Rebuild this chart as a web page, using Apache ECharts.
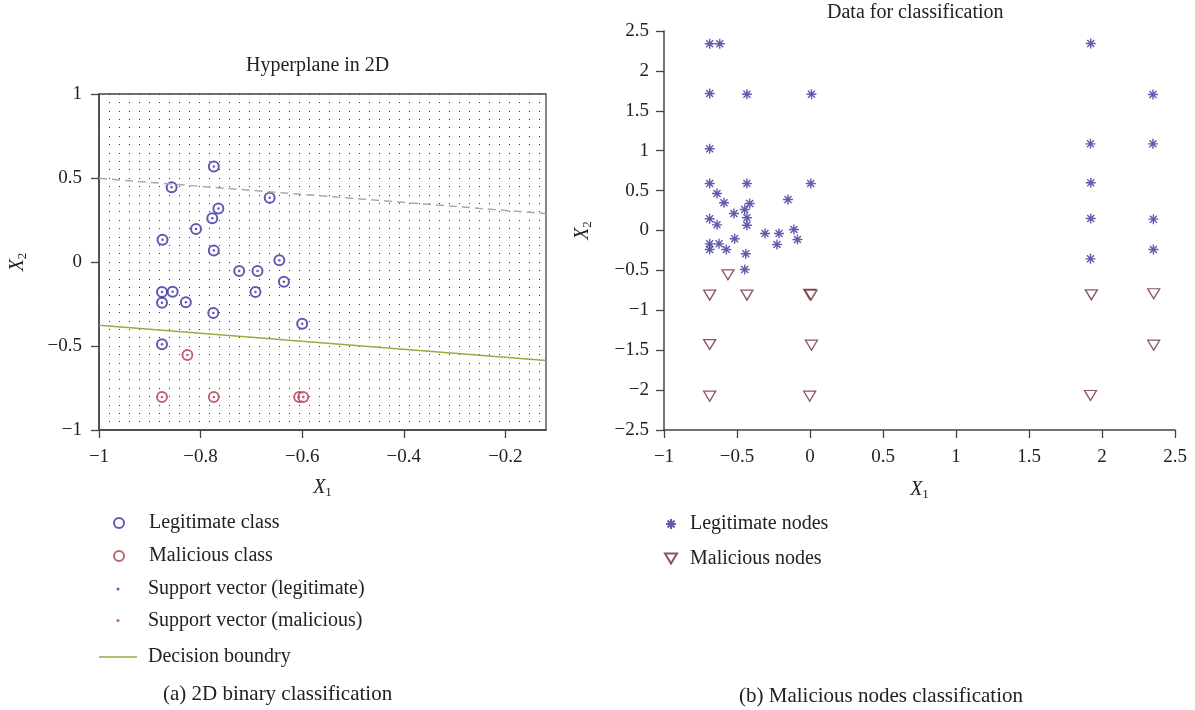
<!DOCTYPE html>
<html>
<head>
<meta charset="utf-8">
<script src="https://cdn.jsdelivr.net/npm/echarts@6/dist/echarts.min.js"></script>
<style>
  html, body { margin: 0; padding: 0; background: #fff; }
  #main { width: 1195px; height: 710px; }
</style>
</head>
<body>
<div id="main"></div>
<script>
// 左图：二维超平面
var legitX2D = [-0.774, -0.857, -0.664, -0.765, -0.777, -0.809, -0.875, -0.774, -0.645, -0.724,
                -0.688, -0.636, -0.876, -0.855, -0.692, -0.876, -0.829, -0.775, -0.600, -0.876];
var legitY2D = [0.569, 0.445, 0.383, 0.319, 0.260, 0.196, 0.133, 0.069, 0.010, -0.054,
                -0.054, -0.117, -0.179, -0.177, -0.179, -0.242, -0.240, -0.304, -0.367, -0.490];
var malX2D = [-0.826, -0.876, -0.774, -0.606, -0.598];
var malY2D = [-0.554, -0.804, -0.804, -0.804, -0.804];
var boundaryX = [-1, -0.12];
var boundaryY = [-0.377, -0.587];
var marginX = [-1, -0.12];
var marginY = [0.498, 0.288];
var leftXTicks = [-1, -0.8, -0.6, -0.4, -0.2];

// 右图：分类数据
var legitX = [-0.687, -0.618, -0.687, -0.432, 0.010, -0.687, -0.687, -0.432, 0.005, -0.637,
              -0.589, -0.413, -0.151, -0.521, -0.447, -0.432, -0.432, -0.687, -0.637, -0.308,
              -0.212, -0.110, -0.086, -0.226, -0.516, -0.687, -0.623, -0.687, -0.573, -0.440,
              -0.447, 1.923, 2.349, 1.921, 2.349, 1.923, 1.923, 2.352, 2.352, 1.921];
var legitY = [2.340, 2.340, 1.717, 1.708, 1.708, 1.024, 0.589, 0.589, 0.589, 0.464,
              0.347, 0.338, 0.388, 0.213, 0.263, 0.159, 0.066, 0.147, 0.071, -0.038,
              -0.038, 0.013, -0.113, -0.175, -0.104, -0.167, -0.167, -0.238, -0.238, -0.292,
              -0.489, 2.343, 1.704, 1.086, 1.086, 0.598, 0.150, 0.142, -0.238, -0.355];
var malX = [-0.562, -0.687, -0.432, -0.002, 0.007, -0.687, 0.010, -0.687, -0.002,
            1.927, 2.354, 2.354, 1.921];
var malY = [-0.555, -0.810, -0.810, -0.800, -0.810, -1.429, -1.437, -2.076, -2.076,
            -0.806, -0.793, -1.437, -2.068];

function zip(xs, ys) {
    var out = [];
    for (var i = 0; i < xs.length; i++) out.push([xs[i], ys[i]]);
    return out;
}
function minus(v) { return String(v).replace('-', '\u2212'); }

var FONT = '"Liberation Serif", "DejaVu Serif", serif';
var TXT = '#222';
var BLUE = '#3a31a0';
var RED = '#b03c50';
var STAR = '#3a3299';
var TRI = '#6e2a32';
var GREEN = '#8fae45';
var AXIS = '#444';

var starPath = 'path://M0,-5L0,5M-5,0L5,0M-3.5,-3.5L3.5,3.5M-3.5,3.5L3.5,-3.5';
var triPath = 'path://M0,0L12,0L6,10Z';
var linePath = 'path://M0,0L38,0L38,1.6L0,1.6Z';

var nameRich = {
    it: { fontFamily: FONT, fontStyle: 'italic', fontSize: 20, color: TXT },
    sub: { fontFamily: FONT, fontSize: 13, color: TXT, padding: [10, 0, 0, 0] }
};

var myChart = echarts.init(document.getElementById('main'));

// 每个图例单独放，便于控制位置
function legendBox(item, left, top, w, h, pad) {
    return {
        data: [item], left: left, top: top, orient: 'vertical', padding: 0,
        itemWidth: w, itemHeight: h, selectedMode: false,
        textStyle: { fontFamily: FONT, fontSize: 20, color: TXT, padding: [0, 0, 0, pad] }
    };
}

function titleBox(text, left, top) {
    return { text: text, left: left, top: top, padding: 0,
             textStyle: { fontFamily: FONT, fontSize: 20, fontWeight: 'normal', color: TXT } };
}

var option = {
    animation: false,
    title: [
        titleBox('Hyperplane in 2D', 246, 56),
        titleBox('Data for classification', 827, 3),
        { text: '(a) 2D binary classification', left: 163, top: 684, padding: 0,
          textStyle: { fontFamily: FONT, fontSize: 21, fontWeight: 'normal', color: TXT } },
        { text: '(b) Malicious nodes classification', left: 739, top: 686, padding: 0,
          textStyle: { fontFamily: FONT, fontSize: 21, fontWeight: 'normal', color: TXT } }
    ],
    legend: [
        legendBox('Legitimate class', 113, 513, 10, 10, 20),
        legendBox('Malicious class', 113, 546, 10, 10, 20),
        legendBox('Support vector (legitimate)', 116.5, 579, 3, 3, 23.5),
        legendBox('Support vector (malicious)', 116.5, 610.5, 3, 3, 23.5),
        legendBox({ name: 'Decision boundry', icon: linePath }, 99, 647, 38, 1.6, 6),
        legendBox('Legitimate nodes', 665, 514, 10, 10, 9),
        legendBox('Malicious nodes', 664, 548.5, 12, 10, 8)
    ],
    grid: [
        { left: 99, top: 94, width: 447, height: 336, show: true,
          borderColor: AXIS, borderWidth: 1.3, backgroundColor: 'transparent' },
        { left: 664, top: 31, width: 511, height: 399 }
    ],
    xAxis: [
        {
            gridIndex: 0, type: 'value', min: -1, max: -0.12, interval: 0.2,
            name: '{it|X}{sub|1}', nameLocation: 'middle', nameGap: 46,
            nameTextStyle: { rich: nameRich },
            axisLine: { onZero: false, lineStyle: { color: AXIS, width: 1.5 } },
            axisTick: { length: 8, customValues: leftXTicks, lineStyle: { color: AXIS, width: 1.3 } },
            axisLabel: { customValues: leftXTicks, margin: 18, formatter: minus,
                         fontFamily: FONT, fontSize: 19, color: TXT },
            splitLine: { show: false }
        },
        {
            gridIndex: 1, type: 'value', min: -1, max: 2.5, interval: 0.5,
            name: '{it|X}{sub|1}', nameLocation: 'middle', nameGap: 48,
            nameTextStyle: { rich: nameRich },
            axisLine: { onZero: false, lineStyle: { color: AXIS, width: 1.5 } },
            axisTick: { length: 8, lineStyle: { color: AXIS, width: 1.3 } },
            axisLabel: { margin: 18, formatter: minus, fontFamily: FONT, fontSize: 19, color: TXT },
            splitLine: { show: false }
        }
    ],
    yAxis: [
        {
            gridIndex: 0, type: 'value', min: -1, max: 1, interval: 0.5,
            name: '{it|X}{sub|2}', nameLocation: 'middle', nameGap: 70, nameRotate: 90,
            nameTextStyle: { rich: nameRich },
            axisLine: { onZero: false, lineStyle: { color: AXIS, width: 1.5 } },
            axisTick: { length: 8, lineStyle: { color: AXIS, width: 1.3 } },
            axisLabel: { margin: 17, formatter: minus, fontFamily: FONT, fontSize: 19, color: TXT },
            splitLine: { show: true, lineStyle: { color: '#333', width: 1, type: [1, 9] } },
            minorTick: { show: false, splitNumber: 10 },
            minorSplitLine: { show: true, lineStyle: { color: '#333', width: 1, type: [1, 9] } }
        },
        {
            gridIndex: 1, type: 'value', min: -2.5, max: 2.5, interval: 0.5,
            name: '{it|X}{sub|2}', nameLocation: 'middle', nameGap: 70, nameRotate: 90,
            nameTextStyle: { rich: nameRich },
            axisLine: { onZero: false, lineStyle: { color: AXIS, width: 1.5 } },
            axisTick: { length: 8, lineStyle: { color: AXIS, width: 1.3 } },
            axisLabel: { margin: 15, formatter: minus, fontFamily: FONT, fontSize: 19, color: TXT },
            splitLine: { show: false }
        }
    ],
    series: [
        {
            name: 'Margin', type: 'line', xAxisIndex: 0, yAxisIndex: 0,
            data: zip(marginX, marginY), symbol: 'none',
            lineStyle: { color: '#aaaaaa', width: 1.5, type: [8, 5] }
        },
        {
            name: 'Decision boundry', type: 'line', xAxisIndex: 0, yAxisIndex: 0,
            data: zip(boundaryX, boundaryY), symbol: 'none',
            lineStyle: { color: GREEN, width: 1.5 },
            itemStyle: { color: GREEN }
        },
        {
            name: 'Legitimate class', type: 'scatter', xAxisIndex: 0, yAxisIndex: 0,
            data: zip(legitX2D, legitY2D), symbol: 'emptyCircle', symbolSize: 10,
            itemStyle: { color: BLUE, borderColor: BLUE, borderWidth: 1.4 }
        },
        {
            name: 'Malicious class', type: 'scatter', xAxisIndex: 0, yAxisIndex: 0,
            data: zip(malX2D, malY2D), symbol: 'emptyCircle', symbolSize: 10,
            itemStyle: { color: RED, borderColor: RED, borderWidth: 1.4 }
        },
        {
            name: 'Support vector (legitimate)', type: 'scatter', xAxisIndex: 0, yAxisIndex: 0,
            data: zip(legitX2D, legitY2D), symbol: 'circle', symbolSize: 2.5,
            itemStyle: { color: BLUE }
        },
        {
            name: 'Support vector (malicious)', type: 'scatter', xAxisIndex: 0, yAxisIndex: 0,
            data: zip(malX2D, malY2D), symbol: 'circle', symbolSize: 2.5,
            itemStyle: { color: RED }
        },
        {
            name: 'Legitimate nodes', type: 'scatter', xAxisIndex: 1, yAxisIndex: 1,
            data: zip(legitX, legitY), symbol: starPath, symbolSize: 10,
            itemStyle: { color: STAR, borderColor: STAR, borderWidth: 1.4 }
        },
        {
            name: 'Malicious nodes', type: 'scatter', xAxisIndex: 1, yAxisIndex: 1,
            data: zip(malX, malY), symbol: triPath, symbolSize: [12, 10],
            itemStyle: { color: '#fff', borderColor: TRI, borderWidth: 1.3 }
        }
    ]
};

myChart.setOption(option);
</script>
</body>
</html>
